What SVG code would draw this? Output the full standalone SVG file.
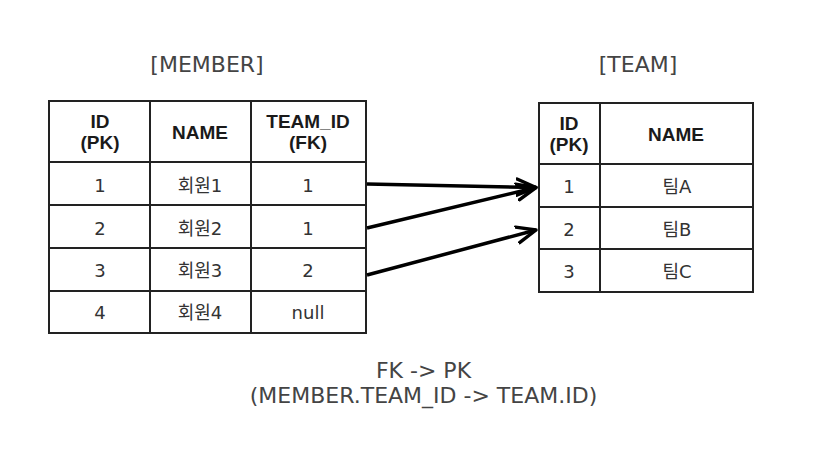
<svg xmlns="http://www.w3.org/2000/svg" width="828" height="468" viewBox="0 0 828 468">
<style>
.t{font-family:"DejaVu Sans","Noto Sans CJK KR",sans-serif;fill:#222;text-anchor:middle}
.title{font-size:22px;fill:#444}
.h{font-family:"Liberation Sans","Noto Sans CJK KR",sans-serif;font-size:19px;font-weight:bold;fill:#1a1a1a}
.c{font-size:18px;fill:#333}
.box{fill:#fff;stroke:#222;stroke-width:2}
.ln{stroke:#222;stroke-width:2;fill:none}
.arr{stroke:#000;stroke-width:3.5;fill:none;marker-end:url(#ah)}
</style>
<defs>
<marker id="ah" viewBox="0 0 12 12" refX="10" refY="6" markerWidth="6.9" markerHeight="6.9" orient="auto" markerUnits="strokeWidth">
<path d="M0.5,2 L10,6 L0.5,10" fill="none" stroke="#000" stroke-width="1.7" stroke-linecap="round" stroke-linejoin="round"/>
</marker>
</defs>
<rect width="828" height="468" fill="#fff"/>
<g id="member">
<text class="t title" x="207" y="72">[MEMBER]</text>
<rect class="box" x="49" y="101" width="317" height="232"/>
<path class="ln" d="M150,101V333 M251,101V333 M49,162H366 M49,205H366 M49,248H366 M49,291H366"/>
<text class="t h" x="100" y="128">ID</text>
<text class="t h" x="100" y="149">(PK)</text>
<text class="t h" x="200" y="139">NAME</text>
<text class="t h" x="308" y="128">TEAM_ID</text>
<text class="t h" x="308" y="149">(FK)</text>
<text class="t c" x="100" y="192">1</text>
<text class="t c" x="200" y="192">회원1</text>
<text class="t c" x="308" y="192">1</text>
<text class="t c" x="100" y="234.5">2</text>
<text class="t c" x="200" y="234.5">회원2</text>
<text class="t c" x="308" y="234.5">1</text>
<text class="t c" x="100" y="277">3</text>
<text class="t c" x="200" y="277">회원3</text>
<text class="t c" x="308" y="277">2</text>
<text class="t c" x="100" y="318.5">4</text>
<text class="t c" x="200" y="318.5">회원4</text>
<text class="t c" x="308" y="318.5">null</text>
</g>
<g id="team">
<text class="t title" x="638" y="72">[TEAM]</text>
<rect class="box" x="539" y="103" width="214" height="189"/>
<path class="ln" d="M600,103V292 M539,164H753 M539,207H753 M539,249H753"/>
<text class="t h" x="569" y="130">ID</text>
<text class="t h" x="569" y="151">(PK)</text>
<text class="t h" x="676" y="141">NAME</text>
<text class="t c" x="569" y="193">1</text>
<text class="t c" x="677" y="193">팀A</text>
<text class="t c" x="569" y="235.5">2</text>
<text class="t c" x="677" y="235.5">팀B</text>
<text class="t c" x="569" y="277.5">3</text>
<text class="t c" x="677" y="277.5">팀C</text>
</g>
<g id="connectors">
<line class="arr" x1="367" y1="184" x2="536" y2="187.5"/>
<line class="arr" x1="367" y1="228" x2="536" y2="187.5"/>
<line class="arr" x1="367" y1="275" x2="536" y2="230"/>
</g>
<g id="caption">
<text class="t title" x="423.5" y="378">FK -&gt; PK</text>
<text class="t title" x="423.5" y="403">(MEMBER.TEAM_ID -&gt; TEAM.ID)</text>
</g>
</svg>
